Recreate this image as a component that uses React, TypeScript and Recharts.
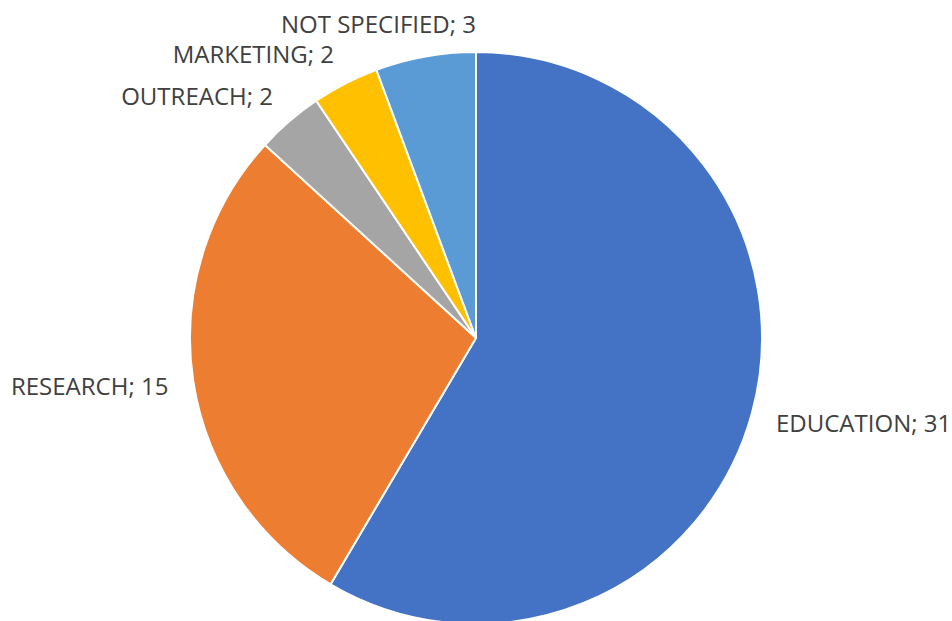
import React from "react";
import { PieChart, Pie, Cell } from "recharts";

const categories = ["EDUCATION", "RESEARCH", "OUTREACH", "MARKETING", "NOT SPECIFIED"];
const values = [31, 15, 2, 2, 3];
const colors = ["#4472C4", "#ED7D31", "#A5A5A5", "#FFC000", "#5B9BD5"];

const data = categories.map((name, i) => ({ name, value: values[i] }));

const RAD = Math.PI / 180;

const renderLabel = (props: any) => {
  const { cx, cy, midAngle, outerRadius, name, value } = props;
  const ux = Math.cos(-midAngle * RAD);
  const uy = Math.sin(-midAngle * RAD);
  const r = outerRadius + 25;
  let x = cx + r * ux;
  const y = cy + r * uy + uy * 9;
  let anchor: "start" | "end" | "middle" = ux >= 0 ? "start" : "end";
  if (Math.abs(ux) < 0.25 && uy < 0) {
    x = cx;
    anchor = "end";
  }
  return (
    <text
      x={x}
      y={y}
      textAnchor={anchor}
      dominantBaseline="central"
      fill="#404040"
      fontSize={24}
      fontFamily="'Open Sans', sans-serif"
    >
      {`${name}; ${value}`}
    </text>
  );
};

export default function App() {
  return (
    <div style={{ position: "absolute", left: 0, top: 0, width: 952, height: 621, background: "#fff" }}>
      <PieChart width={952} height={621} margin={{ top: 0, right: 0, bottom: 0, left: 0 }}>
        <Pie
          data={data}
          dataKey="value"
          nameKey="name"
          cx={476}
          cy={338}
          outerRadius={286}
          startAngle={90}
          endAngle={-270}
          stroke="#ffffff"
          strokeWidth={2}
          label={renderLabel}
          labelLine={false}
          isAnimationActive={false}
        >
          {data.map((d, i) => (
            <Cell key={d.name} fill={colors[i]} />
          ))}
        </Pie>
      </PieChart>
    </div>
  );
}
